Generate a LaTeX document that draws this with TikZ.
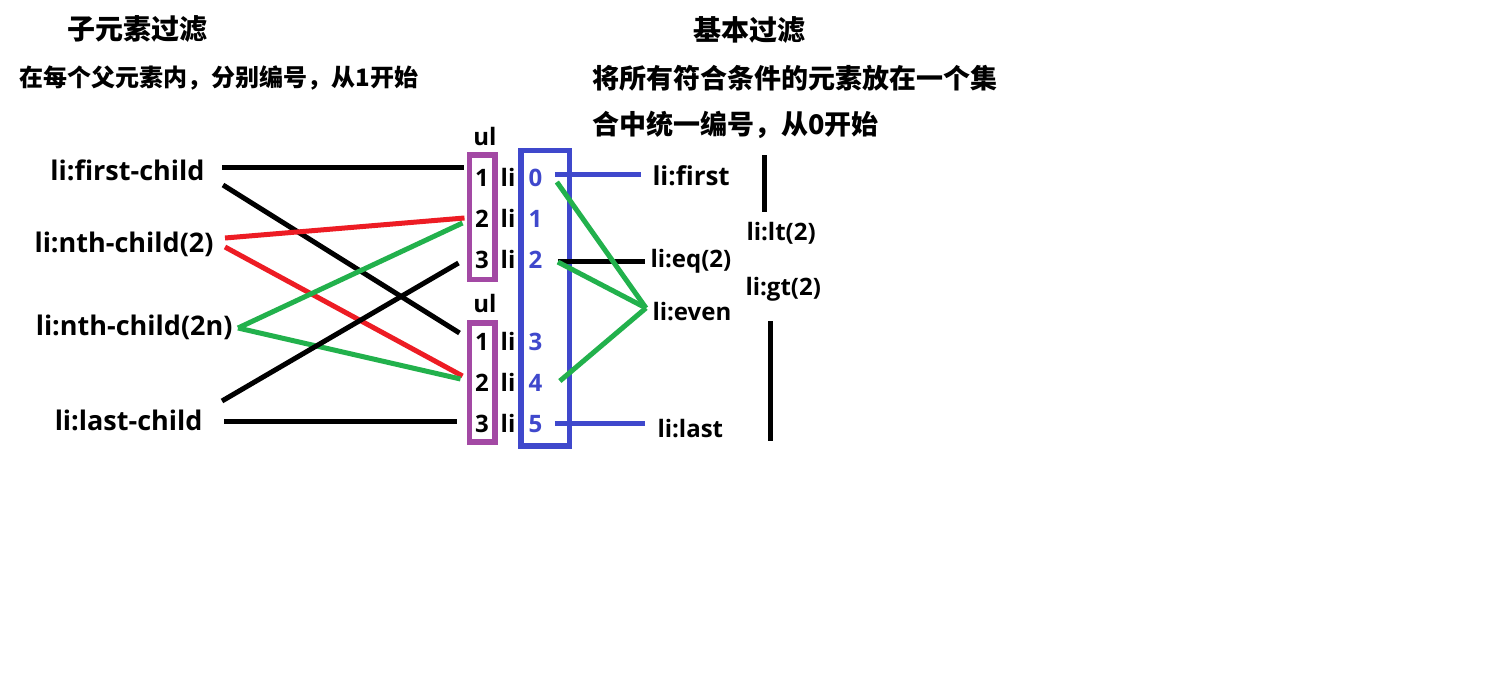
\documentclass[tikz,border=0pt]{standalone}
\usepackage{fontspec}
\setmainfont{Open Sans}
\newfontfamily\cjk{Noto Sans CJK SC}
\usepackage{xcolor}
\definecolor{ulpurple}{HTML}{A349A4}
\definecolor{idxblue}{HTML}{3F48CC}
\definecolor{selred}{HTML}{ED1C24}
\definecolor{selgreen}{HTML}{22B14C}
\newcommand{\fsz}[1]{\fontsize{#1}{#1}\selectfont\bfseries}

\begin{document}
\begin{tikzpicture}
  [x=1pt,y=-1pt,
  every node/.style={inner sep=0pt,font=\fsz{24}},
  line width=5pt]

\tikzset{title/.style={font=\cjk\fsz{28}},
  note/.style={font=\cjk\fsz{27},anchor=west},
  sel/.style={font=\fsz{27},anchor=base east},
  fil/.style={font=\fsz{24},anchor=base west},
  num/.style={anchor=base,minimum width=26pt},
  idx/.style={anchor=base,text=idxblue},
  ulbox/.style={draw=ulpurple,line width=5.5pt,minimum width=25.5pt},
  idxbox/.style={draw=idxblue,line width=5.5pt,minimum width=48.5pt}}

\useasboundingbox[fill=white] (0,0) rectangle (1492,688);

\node[title] (t1) at (137,29) {子元素过滤};
\node[note,font=\cjk\fsz{24}] (s1) at (17,78) {在每个父元素内，分别编号，从1开始};
\node[title] (t2) at (749,30) {基本过滤};
\node[note] (s2) at (590,78) {将所有符合条件的元素放在一个集};
\node[note] (s3) at (590,125) {合中统一编号，从0开始};

\node[sel] (fc)  at (207,180) {li:first-child};
\node[sel] (n2)  at (216,252) {li:nth-child(2)};
\node[sel] (n2n) at (235,335) {li:nth-child(2n)};
\node[sel] (lc)  at (205,430) {li:last-child};

\node[ulbox,minimum height=124.5pt] (box1) at (482,217) {};
\node[ulbox,minimum height=119pt] (box2) at (482,382.5) {};
\node[idxbox,minimum height=295.5pt] (idxs) at (545,298) {};
\node[anchor=base] (ul1) at (485,145) {ul};
\node[anchor=base] (ul2) at (485,312) {ul};

\node[num] (u1a) at (482,186) {1};
\node[num] (u1b) at (482,227) {2};
\node[num] (u1c) at (482,268) {3};
\node[num] (u2a) at (482,350) {1};
\node[num] (u2b) at (482,391) {2};
\node[num] (u2c) at (482,432) {3};
\foreach \y in {186,227,268,350,391,432}
  \node[anchor=base] at (508,\y) {li};

\node[idx] (i0) at (535.5,186) {0};
\node[idx] (i1) at (535.5,227) {1};
\node[idx] (i2) at (535.5,268) {2};
\node[idx] (i3) at (535.5,350) {3};
\node[idx] (i4) at (535.5,391) {4};
\node[idx] (i5) at (535.5,432) {5};

\node[fil,font=\fsz{26}] (first) at (650,185) {li:first};
\node[fil] (eq)   at (648,267) {li:eq(2)};
\node[fil] (even) at (650,320) {li:even};
\node[fil] (last) at (655,437) {li:last};
\node[fil] (lt)   at (744,240) {li:lt(2)};
\node[fil] (gt)   at (743,295) {li:gt(2)};

\draw ([xshift=15pt,yshift=13pt]fc.base east) -- ([xshift=-3pt,yshift=19pt]u1a.base west);
\draw ([xshift=16pt,yshift=-5pt]fc.base east) -- ([xshift=-7pt,yshift=17pt]u2a.base west);
\draw[selred] ([xshift=9pt,yshift=14pt]n2.base east) -- ([xshift=-2pt,yshift=9pt]u1b.base west);
\draw[selred] ([xshift=9pt,yshift=5pt]n2.base east) -- ([xshift=-4pt,yshift=15pt]u2b.base west);
\draw[selgreen] ([xshift=3pt,yshift=7pt]n2n.base east) -- ([xshift=-4pt,yshift=4pt]u1b.base west);
\draw[selgreen] ([xshift=3pt,yshift=7pt]n2n.base east) -- ([xshift=-6pt,yshift=12pt]u2b.base west);
\draw ([xshift=17pt,yshift=29pt]lc.base east) -- ([xshift=-8pt,yshift=5pt]u1c.base west);
\draw ([xshift=19pt,yshift=9pt]lc.base east) -- ([xshift=-10pt,yshift=11pt]u2c.base west);

\draw[idxblue] ([xshift=10pt,yshift=12pt]i0.base east) -- ([xshift=-9pt,yshift=11pt]first.base west);
\draw ([xshift=13pt,yshift=7pt]i2.base east) -- ([xshift=-3pt,yshift=6pt]eq.base west);
\draw[selgreen] ([xshift=12pt,yshift=4pt]i0.base east) -- ([xshift=-4pt,yshift=12pt]even.base west);
\draw[selgreen] ([xshift=13pt,yshift=6pt]i2.base east) -- ([xshift=-4pt,yshift=12pt]even.base west);
\draw[selgreen] ([xshift=15pt,yshift=10pt]i4.base east) -- ([xshift=-4pt,yshift=12pt]even.base west);
\draw[idxblue] ([xshift=10pt,yshift=9pt]i5.base east) -- ([xshift=-10pt,yshift=14pt]last.base west);

\coordinate (ltA) at (764,155);
\coordinate (ltB) at (764,212);
\coordinate (gtA) at (770,321);
\coordinate (gtB) at (770,441);
\draw (ltA) -- (ltB);
\draw (gtA) -- (gtB);
\end{tikzpicture}
\end{document}
